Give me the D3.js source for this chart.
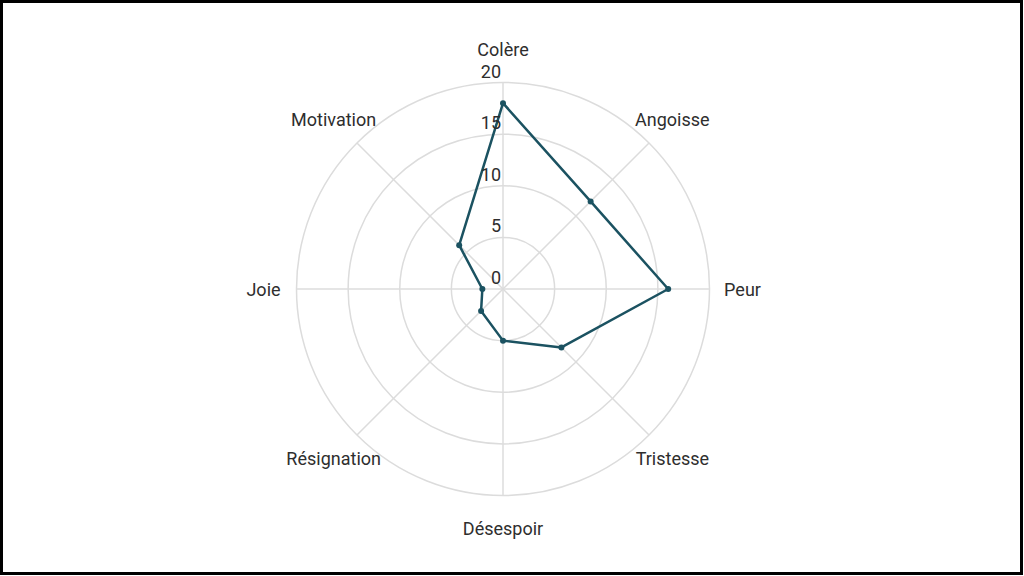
<!DOCTYPE html>
<html>
<head>
<meta charset="utf-8">
<script src="https://cdn.jsdelivr.net/npm/d3@7"></script>
<style>
  html, body { margin: 0; padding: 0; background: #fff; }
  svg { display: block; }
  text { font-family: Roboto, "Noto Sans", sans-serif; fill: #2e2e2e; }
</style>
</head>
<body>
<div id="chart"></div>
<script>
// data
var categories = ["Colère", "Angoisse", "Peur", "Tristesse", "Désespoir", "Résignation", "Joie", "Motivation"];
var values = [18, 12, 16, 8, 5, 3, 2, 6];
var ticks = [0, 5, 10, 15, 20];

var width = 1024, height = 576;
var cx = 503, cy = 289;
var outer = 206.5;
var lineColor = "#1b5261";
var gridColor = "#dcdcdc";

var svg = d3.select("#chart").append("svg")
    .attr("width", width)
    .attr("height", height);

// frame
svg.append("rect")
    .attr("x", 1.5).attr("y", 1.5)
    .attr("width", width - 4).attr("height", height - 4)
    .attr("fill", "none")
    .attr("stroke", "#000")
    .attr("stroke-width", 3);

var r = d3.scaleLinear().domain([0, 20]).range([0, outer]);
var angle = d3.scalePoint().domain(categories).range([0, 2 * Math.PI * (categories.length - 1) / categories.length]);

var g = svg.append("g").attr("transform", "translate(" + cx + "," + cy + ")");

function px(c, v) { return r(v) * Math.sin(angle(c)); }
function py(c, v) { return -r(v) * Math.cos(angle(c)); }

// rings
g.append("g").selectAll("circle")
    .data(ticks.filter(function (t) { return t > 0; }))
    .enter().append("circle")
    .attr("r", function (d) { return r(d); })
    .attr("fill", "none")
    .attr("stroke", gridColor)
    .attr("stroke-width", 1.5);

// spokes
g.append("g").selectAll("line")
    .data(categories)
    .enter().append("line")
    .attr("x1", 0).attr("y1", 0)
    .attr("x2", function (d) { return px(d, 20); })
    .attr("y2", function (d) { return py(d, 20); })
    .attr("stroke", gridColor)
    .attr("stroke-width", 1.5);

// category labels
g.append("g").selectAll("text")
    .data(categories)
    .enter().append("text")
    .attr("x", function (d) { return (outer + 33) * Math.sin(angle(d)); })
    .attr("y", function (d) { return -(outer + 33) * Math.cos(angle(d)); })
    .attr("text-anchor", "middle")
    .attr("dominant-baseline", "central")
    .style("font-size", "18px")
    .text(function (d) { return d; });

// series
var pts = categories.map(function (c, i) { return [px(c, values[i]), py(c, values[i])]; });
g.append("path")
    .datum(pts)
    .attr("d", d3.line().curve(d3.curveLinearClosed))
    .attr("fill", "none")
    .attr("stroke", lineColor)
    .attr("stroke-width", 2.5)
    .attr("stroke-linejoin", "round");

g.append("g").selectAll("circle")
    .data(pts)
    .enter().append("circle")
    .attr("cx", function (d) { return d[0]; })
    .attr("cy", function (d) { return d[1]; })
    .attr("r", 3)
    .attr("fill", lineColor);

// tick labels
g.append("g").selectAll("text")
    .data(ticks)
    .enter().append("text")
    .attr("x", -2)
    .attr("y", function (d) { return -r(d) - 5; })
    .attr("text-anchor", "end")
    .style("font-size", "18px")
    .text(function (d) { return d; });
</script>
</body>
</html>
